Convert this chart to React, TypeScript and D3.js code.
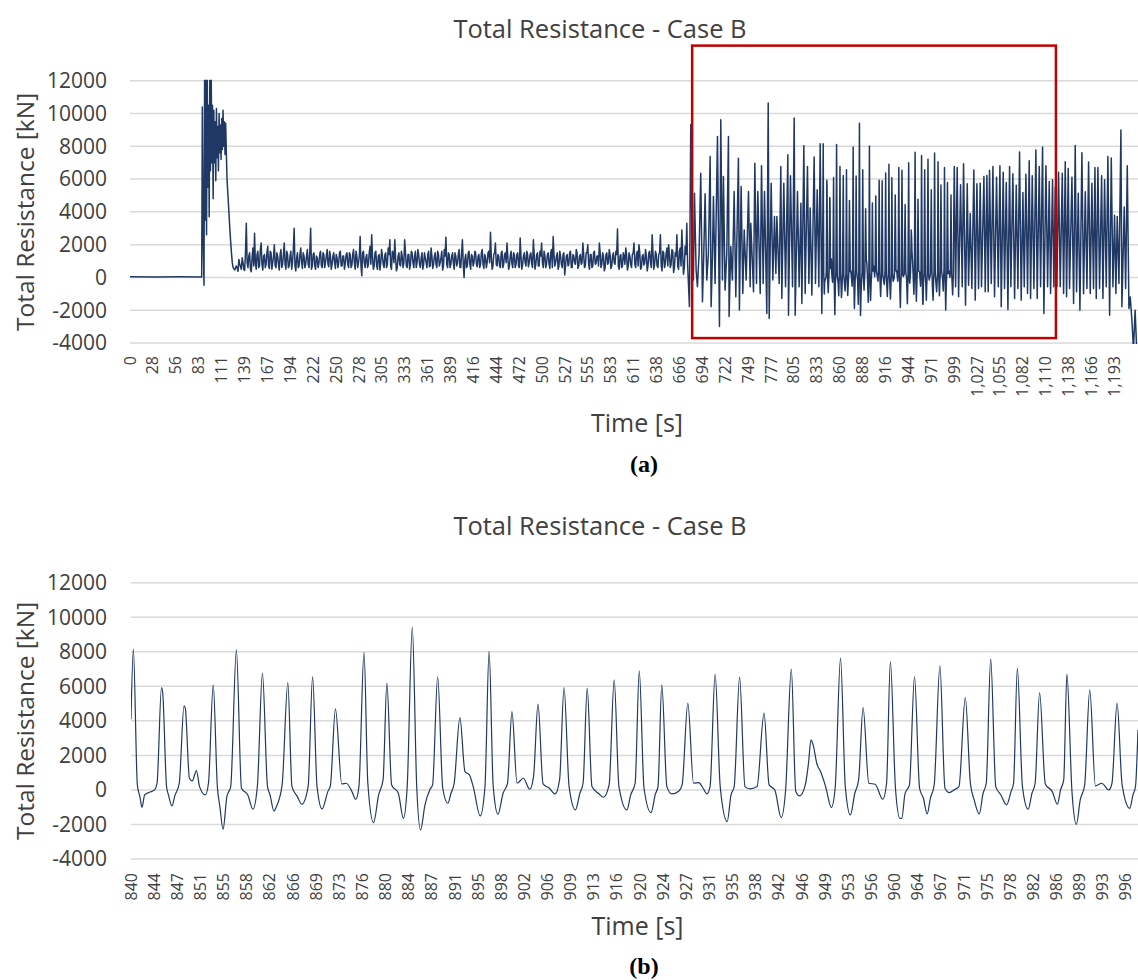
import React, { useEffect, useRef } from 'react';
import * as d3 from 'd3';

type Point = [number, number];

const TITLE = 'Total Resistance - Case B';
const Y_TITLE = 'Total Resistance [kN]';
const X_TITLE = 'Time [s]';

const FONT = '"Open Sans", "Noto Sans", sans-serif';
const LINE_COLOR = '#203864';
const GRID_COLOR = '#d9d9d9';
const TEXT_COLOR = '#404040';
const BOX_COLOR = '#c00000';

const yTicks = [-4000, -2000, 0, 2000, 4000, 6000, 8000, 10000, 12000];

// category labels of the two time axes
const overviewTickLabels = [
  '0', '28', '56', '83', '111', '139', '167', '194', '222', '250', '278', '305', '333', '361', '389',
  '416', '444', '472', '500', '527', '555', '583', '611', '638', '666', '694', '722', '749', '777',
  '805', '833', '860', '888', '916', '944', '971', '999', '1,027', '1,055', '1,082', '1,110', '1,138',
  '1,166', '1,193'
];
const overviewTickStep = 27.75;

const zoomTickLabels = [
  '840', '844', '847', '851', '855', '858', '862', '866', '869', '873', '876', '880', '884', '887',
  '891', '895', '898', '902', '906', '909', '913', '916', '920', '924', '927', '931', '935', '938',
  '942', '946', '949', '953', '956', '960', '964', '967', '971', '975', '978', '982', '986', '989',
  '993', '996'
];
const zoomTickStep = 3.644;

// [time s, resistance kN] - idle, then the impact burst and its decay
const startupPoints: Point[] = [
  [0, 40], [30, 30], [60, 40], [86.9, 20], [87.7, 10400], [88.7, 2500], [89.7, -480], [90.5, 13000],
  [91.3, 3500], [92.0, 12500], [92.8, 2600], [93.6, 13000], [94.4, 5500], [95.2, 10500], [96.0, 3700],
  [96.8, 12500], [97.6, 6500], [98.4, 13000], [99.2, 7000], [100.0, 10500], [100.8, 4800],
  [101.6, 10200], [102.4, 7000], [103.2, 9500], [104.0, 5900], [104.8, 10300], [105.6, 7300],
  [106.4, 9200], [107.2, 6500], [108.0, 10000], [108.8, 7600], [109.6, 9300], [110.4, 7200],
  [111.2, 9700], [112.0, 7800], [112.8, 10200], [113.6, 8000], [114.4, 9500], [115.2, 7500],
  [116.0, 9400], [116.8, 7600], [117.6, 6000], [118.4, 5300], [119.2, 4600], [120.0, 3900],
  [121.0, 3000], [122.0, 2200], [123.0, 1500], [124.0, 900], [125.0, 600]
];

// steady phase: readings at odd seconds (127, 129, ...) and even seconds (128, 130, ...)
const steadyStart = 127;
const steadyStep = 2;
const steadyOdd = [
  450, 700, 380, 820, 500, 900, 420, 3300, 600, 1500,
  350, 1800, 2700, 500, 1600, 700, 2100, 450, 1400, 800,
  1900, 550, 1500, 900, 2000, 600, 1300, 450, 1700, 800,
  2100, 500, 1400, 700, 1600, 900, 3000, 400, 1500, 700,
  1800, 550, 1300, 800, 1700, 600, 3000, 700, 1500, 500,
  1200, 850, 1600, 600, 1400, 900, 1700, 650, 1300, 800,
  1500, 550, 1200, 900, 1600, 700, 1300, 850, 1500, 600,
  1400, 750, 1700, 500, 1300, 900, 2500, 100, 1600, 600,
  1400, 800, 1900, 2600, 500, 1500, 700, 1300, 450, 1700,
  800, 1400, 600, 1800, 2300, 500, 1500, 2300, 400, 1300,
  800, 1600, 600, 2300, 700, 1400, 500, 1600, 900, 1300,
  600, 1700, 800, 1200, 500, 1500, 900, 1400, 650, 1800,
  550, 1300, 800, 1600, 700, 1200, 450, 1700, 2450, 600,
  1400, 800, 1500, 500, 1300, 850, 1700, 600, 2300, 0,
  1400, 700, 1600, 500, 1300, 900, 1500, 650, 1400, 800,
  1700, 550, 1200, 900, 1600, 2750, 500, 1400, 2100, 700,
  1300, 600, 1600, 800, 1500, 2100, 500, 1300, 850, 1500,
  600, 1400, 700, 2400, 500, 1300, 900, 1600, 650, 1400,
  800, 2300, 500, 1400, 700, 1600, 2100, 600, 1300, 850,
  1500, 550, 1700, 2500, 700, 1300, 500, 1600, 800, 1400,
  150, 1300, 700, 1500, 600, 1400, 900, 1700, 550, 1300,
  800, 2100, 600, 1500, 2000, 500, 1400, 700, 1600, 850,
  1300, 2100, 600, 1500, 400, 1400, 800, 1700, 550, 1300,
  900, 1600, 2950, 500, 1400, 700, 1300, 1800, 450, 1500,
  800, 1400, 2100, 600, 1600, 2000, 500, 1300, 750, 1700,
  400, 1500, 900, 2600, 500, 1600, 700, 1400, 2600, 400,
  1500, 850, 1800, 2000, 600, 1700, 300, 1500, 2600, 500,
  1800, 2900, 200, 1900, 3300
];
const steadyEven = [
  600, 550, 1100, 650, 1200, 500, 1500, 900, 1300, 500,
  1200, 700, 900, 1400, 600, 1700, 800, 1300, 600, 1500,
  700, 1600, 500, 1300, 700, 1500, 800, 1400, 600, 1400,
  800, 1600, 600, 1300, 500, 1700, 700, 1200, 600, 1400,
  900, 1500, 600, 1300, 800, 1600, 500, 1400, 700, 1300,
  600, 1400, 700, 1500, 600, 1300, 800, 1600, 500, 1300,
  900, 1400, 600, 1500, 700, 1300, 500, 1400, 800, 1500,
  600, 1400, 900, 1600, 600, 1300, 700, 1500, 900, 1200,
  600, 1500, 800, 1300, 700, 1600, 500, 1400, 900, 1300,
  600, 1500, 800, 1400, 700, 1600, 900, 1200, 600, 1500,
  700, 1300, 900, 1500, 600, 1400, 800, 1500, 600, 1600,
  900, 1400, 600, 1500, 800, 1200, 600, 1600, 700, 1300,
  800, 1500, 600, 1400, 900, 1600, 700, 1300, 800, 1500,
  600, 1300, 900, 1500, 700, 1400, 600, 1500, 800, 1100,
  600, 1500, 800, 1400, 700, 1600, 800, 1300, 600, 1500,
  800, 1400, 600, 1500, 900, 1300, 700, 1500, 800, 1400,
  700, 1500, 600, 1400, 900, 1300, 700, 1600, 600, 1400,
  800, 1500, 600, 1300, 800, 1500, 700, 1400, 900, 1500,
  600, 1400, 800, 1500, 700, 1300, 900, 1600, 600, 1400,
  800, 1500, 600, 1400, 900, 1500, 700, 1300, 600, 1500,
  700, 1400, 800, 1600, 600, 1300, 800, 1500, 700, 1400,
  900, 1400, 700, 1500, 800, 1400, 600, 1500, 800, 1300,
  700, 1500, 800, 1300, 600, 1500, 900, 1400, 700, 1500,
  800, 1400, 700, 1300, 600, 1500, 800, 1400, 700, 1300,
  600, 1500, 800, 1400, 700, 1500, 600, 1400, 900, 1300,
  700, 1600, 600, 1500, 800, 1400, 600, 1500, 700, 1600,
  600, 1500, 700, 1400, 800, 1600, 600, 1300, 700, 1600,
  700, 1500, 600, 1400, 800
];

// onset of the periodic loading (peaks and troughs)
const waveOnsetPoints: Point[] = [
  [678.2, -1781], [679.8, 9313], [681.8, 448], [683.0, -163], [684.3, 5140], [686.3, 448],
  [687.9, -570], [689.9, 1476], [691.9, 6361], [694.0, -1486], [695.6, 1476], [697.2, 5099],
  [699.2, -163], [701.2, 1476], [703.3, 7379], [704.5, -1781], [706.1, 1272], [707.3, 4936],
  [709.3, -367], [712.2, 8600], [714.6, -2995], [716.2, 9618], [718.2, -163], [719.4, 6157],
  [721.4, -774], [723.5, 1476], [725.5, 8600], [726.3, -2384], [728.3, 1883], [730.3, -163],
  [732.4, 5242], [734.4, -1181], [737.6, 7277], [738.8, -1985], [740.9, 5550], [742.9, -977],
  [744.6, 2900], [747.0, -163], [749.8, 5240], [751.8, -570], [752.6, 3300], [755.9, -875],
  [757.5, 6970], [759.5, -367], [761.1, 5240], [764.0, -977], [765.6, 6810], [767.6, -367],
  [769.2, 5240], [772.0, -2198], [773.7, 10640], [774.9, -2503], [777.3, 5750], [779.3, -163],
  [781.3, 3720], [783.0, 245], [784.2, 3720], [787.0, -367], [789.0, 6770], [790.2, -1283],
  [792.6, 5750], [794.7, -570], [797.5, 7480], [798.3, -2300], [800.7, 6200], [803.2, -570],
  [805.2, 9720], [806.4, -2300], [809.2, 5240], [811.2, -570], [813.3, 4530], [814.5, -1588],
  [816.9, 8030], [818.5, -977], [821.3, 6770], [823.0, -367], [824.6, 4230], [826.6, -1079],
  [829.4, 7340], [831.0, -367], [833.1, 5350], [835.1, -570], [836.7, 8150], [838.7, -2198]
];

// detailed window 840 - 998.6 s (panel b)
const windowPoints: Point[] = [
  [840.0, 4096], [840.37, 8153], [841.0, 290], [841.4, -386], [841.73, -1005], [842.15, -290],
  [842.9, -135], [843.7, 0], [844.1, 386], [844.8, 5931], [845.0, 5600], [845.6, 193],
  [845.9, -290], [846.45, -927], [846.9, -348], [847.6, 386], [848.35, 4869], [848.55, 4733],
  [849.2, 676], [849.65, 522], [850.3, 1120], [850.8, 193], [851.7, -290], [852.2, 386],
  [852.95, 6086], [853.6, 193], [854.0, -966], [854.5, -2280], [855.1, -386], [855.7, 193],
  [856.6, 8114], [857.4, 97], [858.4, -290], [859.2, -1120], [859.9, 193], [860.7, 6762],
  [861.5, 193], [861.9, -290], [862.5, -1217], [862.9, -966], [863.8, 290], [864.7, 6221],
  [865.35, 193], [866.2, -386], [866.9, -830], [867.9, 193], [868.6, 6569], [869.3, 193],
  [870.1, -1101], [871.0, -97], [871.4, 232], [872.2, 4695], [873.2, 348], [873.9, 386],
  [874.8, -97], [875.4, -541], [875.9, 193], [876.7, 7960], [877.3, 386], [878.2, -1893],
  [879.0, -290], [879.7, 580], [880.3, 6182], [881.05, 290], [882.1, -193], [882.9, -1642],
  [883.5, 193], [884.3, 9412], [885.0, 193], [885.6, -2318], [886.3, -870], [887.1, 40],
  [887.5, 290], [888.3, 6569], [889.1, 97], [889.9, -773], [890.4, -193], [890.9, 386],
  [891.8, 4192], [892.6, 1063], [893.3, 870], [893.9, 193], [895.0, -1507], [895.75, 193],
  [896.4, 8018], [897.05, 193], [897.8, -1410], [898.6, -193], [899.3, 386], [900.0, 4540],
  [900.8, 386], [901.8, 676], [902.8, 40], [903.4, 773], [904.1, 4965], [904.9, 348],
  [905.9, 97], [906.8, -232], [907.5, 580], [908.2, 5931], [909.0, 193], [910.0, -1159],
  [910.7, -193], [911.2, 386], [911.85, 5893], [912.6, 193], [913.6, -193], [914.4, -425],
  [915.3, 290], [916.1, 6376], [916.85, 193], [918.1, -1159], [918.7, -290], [919.4, 386],
  [920.05, 6897], [920.8, 97], [921.9, -1314], [922.6, -232], [923.0, 193], [923.6, 6086],
  [924.4, 193], [925.2, -232], [926.3, -58], [926.8, 290], [927.7, 5023], [928.6, 386],
  [929.4, 425], [930.2, 40], [930.7, -232], [931.2, 193], [932.0, 6704], [932.8, 193],
  [933.9, -1835], [934.5, -290], [935.0, 193], [935.85, 6530], [936.7, 193], [937.5, 58],
  [938.6, 193], [939.7, 4444], [940.5, 290], [941.4, 0], [942.4, -1604], [943.1, 0],
  [944.0, 6994], [944.7, -97], [945.3, -348], [946.2, 290], [946.7, 1546], [947.1, 2898],
  [947.5, 2512], [948.0, 1546], [948.6, 1063], [949.4, 193], [950.3, -1024], [950.9, 97],
  [951.75, 7631], [952.5, 193], [953.3, -1449], [954.0, -193], [954.6, 580], [955.3, 4772],
  [956.2, 386], [957.2, 328], [958.4, -541], [959.0, 386], [959.6, 7438], [960.4, 97],
  [961.1, -1642], [961.4, -1642], [961.9, -232], [962.6, 290], [963.4, 6569], [964.2, 97],
  [964.8, -483], [965.4, -1391], [965.9, -483], [966.5, 290], [967.4, 7206], [968.2, 97],
  [968.9, -155], [969.6, 0], [970.4, 193], [971.4, 5352], [972.2, 386], [972.8, -580],
  [973.6, -1391], [974.2, -193], [974.7, 386], [975.4, 7593], [976.2, 193], [977.0, -290],
  [977.9, -870], [978.6, -97], [979.0, 386], [979.6, 7052], [980.4, 193], [981.3, -1120],
  [981.9, -193], [982.4, 386], [983.1, 5641], [984.0, 348], [985.1, -97], [985.9, -830],
  [986.4, 0], [986.9, 580], [987.4, 6704], [988.2, -97], [988.9, -1990], [989.5, -580],
  [990.2, 290], [991.0, 5796], [991.9, 232], [992.9, 386], [994.0, 0], [994.5, 386],
  [995.3, 5023], [996.1, 290], [997.3, -1063], [997.8, -300], [998.2, 193], [998.6, 3486]
];

// rest of the periodic loading and the final drop
const waveTailPoints: Point[] = [
  [999.3, 6770], [1000.9, -570], [1002.8, 6710], [1004.5, -1181], [1006.9, 5650], [1008.9, -570],
  [1010.5, 6930], [1012.9, -1690], [1015.0, 5710], [1016.6, -470], [1018.6, 3900], [1020.6, -672],
  [1023.0, 6560], [1024.7, -1385], [1026.7, 5710], [1028.7, -672], [1030.7, 5750], [1032.3, -570],
  [1035.2, 6160], [1036.8, -875], [1038.8, 6220], [1040.4, -875], [1042.0, 6540], [1044.1, -367],
  [1046.1, 6770], [1048.1, -1181], [1050.5, 6110], [1052.6, -570], [1054.6, 6810], [1056.2, -1792],
  [1058.6, 6420], [1060.2, -672], [1062.3, 5790], [1064.3, -1954], [1066.3, 6770], [1067.9, -570],
  [1070.3, 6320], [1072.4, -1283], [1074.4, 5630], [1076.4, -672], [1078.4, 7650], [1080.4, -1385],
  [1082.5, 5180], [1084.1, -570], [1086.1, 6300], [1088.1, -977], [1090.1, 7120], [1091.8, -1283],
  [1093.8, 6200], [1095.8, -672], [1098.2, 7770], [1099.8, -1283], [1102.3, 6770], [1103.9, -570],
  [1106.3, 7950], [1107.9, -2198], [1110.4, 6810], [1112.4, -570], [1114.4, 5850], [1116.0, -977],
  [1118.4, 5960], [1120.0, -570], [1121.7, 5500], [1123.7, -570], [1125.7, 6420], [1127.7, -570],
  [1130.2, 6360], [1131.8, -977], [1133.8, 7060], [1135.4, -1181], [1137.4, 6650], [1139.0, -672],
  [1141.9, 6110], [1143.9, -1588], [1145.9, 8050], [1147.5, -875], [1149.6, 5140], [1151.6, -1995],
  [1154.0, 7610], [1156.0, -1000], [1158.1, 5220], [1160.1, -672], [1162.1, 7040], [1164.1, -977],
  [1166.1, 5750], [1168.1, -672], [1169.8, 6710], [1171.4, -1283], [1173.4, 6710], [1175.4, -672],
  [1177.9, 6200], [1179.5, -1283], [1181.5, 5960], [1183.5, -570], [1185.5, 7380], [1187.6, -2300],
  [1189.6, 7280], [1191.6, -570], [1193.6, 3790], [1195.2, -977], [1196.8, 3720], [1198.9, -367],
  [1201.3, 9000], [1202.5, -1792], [1205.3, 4290], [1207.0, -672], [1209.0, 6810], [1211.0, -1893],
  [1212.6, -1200], [1214.6, -2600], [1216.5, -4400], [1218.5, -2000], [1220.6, -4600], [1222.0, -4400]
];

// red box marking the periodic region in panel (a)
const highlight = { from: 681.5, to: 1122.5, top: 14140, bottom: -3700 };

const steadyPoints: Point[] = [];
steadyOdd.forEach((v, i) => {
  const t = steadyStart + i * steadyStep;
  steadyPoints.push([t, v]);
  if (i < steadyEven.length) steadyPoints.push([t + 1, steadyEven[i]]);
});

const resistanceSeries: Point[] = [
  ...startupPoints, ...steadyPoints, ...waveOnsetPoints, ...windowPoints, ...waveTailPoints
];

interface PanelSpec {
  id: string;
  domain: [number, number];
  left: number;
  right: number;
  top: number;
  bottom: number;
  titleY: number;
  yLabelX: number;
  yTitleX: number;
  tickLabels: string[];
  tickStart: number;
  tickStep: number;
  tickLabelY: number;
  xTitleY: number;
  caption: string;
  captionY: number;
  lineWidth: number;
  curve: d3.CurveFactory;
  showBox: boolean;
}

const panels: PanelSpec[] = [
  {
    id: 'a', domain: [0, 1222], left: 130, right: 1138, top: 80.7, bottom: 343,
    titleY: 38, yLabelX: 107, yTitleX: 25,
    tickLabels: overviewTickLabels, tickStart: 0, tickStep: overviewTickStep, tickLabelY: 356,
    xTitleY: 432, caption: '(a)', captionY: 472, lineWidth: 1.5, curve: d3.curveLinear, showBox: true
  },
  {
    id: 'b', domain: [840, 998.6], left: 131, right: 1138, top: 582.7, bottom: 859,
    titleY: 535, yLabelX: 107, yTitleX: 25,
    tickLabels: zoomTickLabels, tickStart: 840, tickStep: zoomTickStep, tickLabelY: 873,
    xTitleY: 935, caption: '(b)', captionY: 974, lineWidth: 1.2, curve: d3.curveMonotoneX, showBox: false
  }
];

function drawPanel(svg: d3.Selection<SVGSVGElement, unknown, null, undefined>, spec: PanelSpec) {
  const x = d3.scaleLinear().domain(spec.domain).range([spec.left, spec.right]);
  const y = d3.scaleLinear().domain([-4000, 12000]).range([spec.bottom, spec.top]);
  const g = svg.append('g').attr('class', `panel-${spec.id}`);
  const midX = (spec.left + spec.right) / 2;

  // gridlines
  g.selectAll('.grid')
    .data(yTicks)
    .enter().append('line')
    .attr('class', 'grid')
    .attr('x1', spec.left)
    .attr('x2', spec.right)
    .attr('y1', d => y(d))
    .attr('y2', d => y(d))
    .attr('stroke', GRID_COLOR)
    .attr('stroke-width', 1.5);

  // y tick labels
  g.selectAll('.ytick')
    .data(yTicks)
    .enter().append('text')
    .attr('class', 'ytick')
    .attr('x', spec.yLabelX)
    .attr('y', d => y(d))
    .attr('dy', '0.35em')
    .attr('text-anchor', 'end')
    .style('font-family', FONT)
    .style('font-size', '21px')
    .style('fill', TEXT_COLOR)
    .text(d => String(d));

  // rotated x tick labels
  g.selectAll('.xtick')
    .data(spec.tickLabels)
    .enter().append('text')
    .attr('class', 'xtick')
    .attr('transform', (_, i) => `translate(${x(spec.tickStart + i * spec.tickStep)},${spec.tickLabelY}) rotate(-90)`)
    .attr('dy', '0.35em')
    .attr('text-anchor', 'end')
    .style('font-family', FONT)
    .style('font-size', '16px')
    .style('fill', TEXT_COLOR)
    .text(d => d);

  // series, clipped to the plot area
  const clipId = `clip-${spec.id}`;
  svg.append('defs').append('clipPath').attr('id', clipId)
    .append('rect')
    .attr('x', spec.left)
    .attr('y', spec.top - 1)
    .attr('width', spec.right - spec.left)
    .attr('height', spec.bottom - spec.top + 2);

  const visible = resistanceSeries.filter(d => d[0] >= spec.domain[0] && d[0] <= spec.domain[1]);
  const line = d3.line<Point>()
    .x(d => x(d[0]))
    .y(d => y(d[1]))
    .curve(spec.curve);

  g.append('path')
    .datum(visible)
    .attr('d', line)
    .attr('fill', 'none')
    .attr('stroke', LINE_COLOR)
    .attr('stroke-width', spec.lineWidth)
    .attr('stroke-linejoin', 'round')
    .attr('clip-path', `url(#${clipId})`);

  if (spec.showBox) {
    g.append('rect')
      .attr('x', x(highlight.from))
      .attr('y', y(highlight.top))
      .attr('width', x(highlight.to) - x(highlight.from))
      .attr('height', y(highlight.bottom) - y(highlight.top))
      .attr('fill', 'none')
      .attr('stroke', BOX_COLOR)
      .attr('stroke-width', 2.5);
  }

  // titles
  g.append('text')
    .attr('x', 600)
    .attr('y', spec.titleY)
    .attr('text-anchor', 'middle')
    .style('font-family', FONT)
    .style('font-size', '25.5px')
    .style('fill', TEXT_COLOR)
    .text(TITLE);

  g.append('text')
    .attr('transform', `translate(${spec.yTitleX},${(spec.top + spec.bottom) / 2}) rotate(-90)`)
    .attr('dy', '0.35em')
    .attr('text-anchor', 'middle')
    .style('font-family', FONT)
    .style('font-size', '24.5px')
    .style('fill', TEXT_COLOR)
    .text(Y_TITLE);

  g.append('text')
    .attr('x', midX + 3)
    .attr('y', spec.xTitleY)
    .attr('text-anchor', 'middle')
    .style('font-family', FONT)
    .style('font-size', '25px')
    .style('fill', TEXT_COLOR)
    .text(X_TITLE);

  g.append('text')
    .attr('x', 644)
    .attr('y', spec.captionY)
    .attr('text-anchor', 'middle')
    .style('font-family', '"Liberation Serif", "DejaVu Serif", serif')
    .style('font-weight', 'bold')
    .style('font-size', '24px')
    .style('fill', '#000')
    .text(spec.caption);
}

export default function App() {
  const svgRef = useRef<SVGSVGElement>(null);

  useEffect(() => {
    if (!svgRef.current) return;
    const svg = d3.select(svgRef.current);
    svg.selectAll('*').remove();
    panels.forEach(p => drawPanel(svg, p));
  }, []);

  return (
    <svg
      ref={svgRef}
      width={1138}
      height={980}
      viewBox="0 0 1138 980"
      style={{ position: 'absolute', left: 0, top: 0, background: '#ffffff' }}
    />
  );
}
